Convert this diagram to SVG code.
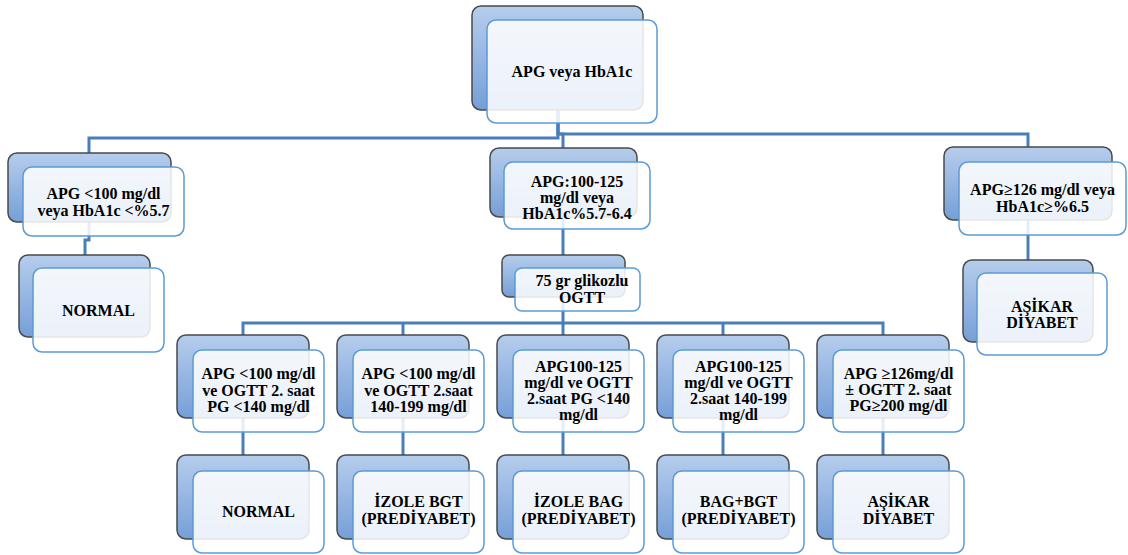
<svg xmlns="http://www.w3.org/2000/svg" width="1128" height="555" viewBox="0 0 1128 555">
<defs>
<linearGradient id="bg" x1="0" y1="0" x2="0" y2="1">
<stop offset="0" stop-color="#b6cdec"/>
<stop offset="1" stop-color="#769fd7"/>
</linearGradient>
<style>
.back{fill:url(#bg);stroke:#4a4a4a;stroke-width:1.5}
.front{fill:#ffffff;fill-opacity:0.86;stroke:#5b9bd5;stroke-width:1.5}
.conn{fill:none;stroke:#4a7ebb;stroke-width:3}
text{font-family:"Liberation Serif","Times New Roman",serif;font-weight:bold;font-size:16px;fill:#000;text-anchor:middle}
</style>
</defs>
<rect width="1128" height="555" fill="#ffffff"/>
<g id="connectors">
<path class="conn" d="M558,110 V138 H89 V153"/>
<path class="conn" d="M558,110 V134 H1028 V147"/>
<path class="conn" d="M558,110 V134 H563 V148"/>
<path class="conn" d="M89,222 V240 H85 V255"/>
<path class="conn" d="M563,217 V255"/>
<path class="conn" d="M1028,220 V260"/>
<path class="conn" d="M563,297 V323 H243 V335"/>
<path class="conn" d="M563,323 H883 V335"/>
<path class="conn" d="M403,323 V335"/>
<path class="conn" d="M563,323 V335"/>
<path class="conn" d="M723,323 V335"/>
<path class="conn" d="M243,418 V455"/>
<path class="conn" d="M403,418 V455"/>
<path class="conn" d="M563,418 V455"/>
<path class="conn" d="M723,418 V455"/>
<path class="conn" d="M883,418 V455"/>
</g>
<g id="n-top">
<rect class="back" x="472" y="6" width="171" height="104" rx="9"/>
<rect class="front" x="487" y="20" width="170" height="103" rx="9"/>
<text x="572" y="77">APG veya HbA1c</text>
</g>
<g id="n-left">
<rect class="back" x="8" y="153" width="163" height="69" rx="9"/>
<rect class="front" x="23" y="167" width="161" height="69" rx="9"/>
<text x="103.5" y="199">APG &lt;100 mg/dl</text>
<text x="103.5" y="216">veya HbA1c &lt;%5.7</text>
</g>
<g id="n-left-normal">
<rect class="back" x="19" y="255" width="131" height="82" rx="9"/>
<rect class="front" x="33" y="268" width="131" height="84" rx="9"/>
<text x="98.5" y="316">NORMAL</text>
</g>
<g id="n-mid">
<rect class="back" x="490" y="148" width="147" height="69" rx="9"/>
<rect class="front" x="504" y="162" width="146" height="67" rx="9"/>
<text x="577" y="187">APG:100-125</text>
<text x="577" y="203">mg/dl veya</text>
<text x="577" y="219">HbA1c%5.7-6.4</text>
</g>
<g id="n-ogtt">
<rect class="back" x="502" y="255" width="123" height="42" rx="7"/>
<rect class="front" x="515" y="268" width="125" height="43" rx="7"/>
<text x="582" y="286">75 gr glikozlu</text>
<text x="582" y="303">OGTT</text>
</g>
<g id="n-right">
<rect class="back" x="944" y="147" width="168" height="73" rx="9"/>
<rect class="front" x="959" y="162" width="167" height="73" rx="9"/>
<text x="1042.5" y="195">APG≥126 mg/dl veya</text>
<text x="1042.5" y="212">HbA1c≥%6.5</text>
</g>
<g id="n-right-asikar">
<rect class="back" x="963" y="260" width="130" height="82" rx="9"/>
<rect class="front" x="977" y="273" width="130" height="82" rx="9"/>
<text x="1042" y="312">AŞİKAR</text>
<text x="1042" y="328">DİYABET</text>
</g>
<g id="r2-1">
<rect class="back" x="177" y="335" width="132" height="83" rx="9"/>
<rect class="front" x="193" y="350" width="131" height="82" rx="9"/>
<text x="258.5" y="379">APG &lt;100 mg/dl</text>
<text x="258.5" y="396">ve OGTT 2. saat</text>
<text x="258.5" y="412">PG &lt;140 mg/dl</text>
</g>
<g id="r2-2">
<rect class="back" x="337" y="335" width="132" height="83" rx="9"/>
<rect class="front" x="353" y="350" width="131" height="82" rx="9"/>
<text x="418.5" y="379">APG &lt;100 mg/dl</text>
<text x="418.5" y="396">ve OGTT 2.saat</text>
<text x="418.5" y="412">140-199 mg/dl</text>
</g>
<g id="r2-3">
<rect class="back" x="497" y="335" width="132" height="83" rx="9"/>
<rect class="front" x="513" y="350" width="131" height="82" rx="9"/>
<text x="578.5" y="372">APG100-125</text>
<text x="578.5" y="388">mg/dl ve OGTT</text>
<text x="578.5" y="404">2.saat PG &lt;140</text>
<text x="578.5" y="420">mg/dl</text>
</g>
<g id="r2-4">
<rect class="back" x="657" y="335" width="132" height="83" rx="9"/>
<rect class="front" x="673" y="350" width="131" height="82" rx="9"/>
<text x="738.5" y="372">APG100-125</text>
<text x="738.5" y="388">mg/dl ve OGTT</text>
<text x="738.5" y="404">2.saat 140-199</text>
<text x="738.5" y="420">mg/dl</text>
</g>
<g id="r2-5">
<rect class="back" x="817" y="335" width="132" height="83" rx="9"/>
<rect class="front" x="833" y="350" width="131" height="82" rx="9"/>
<text x="898.5" y="379">APG ≥126mg/dl</text>
<text x="898.5" y="395">± OGTT 2. saat</text>
<text x="898.5" y="411">PG≥200 mg/dl</text>
</g>
<g id="r3-1">
<rect class="back" x="177" y="455" width="132" height="84" rx="9"/>
<rect class="front" x="193" y="471" width="131" height="82" rx="9"/>
<text x="258.5" y="517">NORMAL</text>
</g>
<g id="r3-2">
<rect class="back" x="337" y="455" width="132" height="84" rx="9"/>
<rect class="front" x="353" y="471" width="131" height="82" rx="9"/>
<text x="418.5" y="507">İZOLE BGT</text>
<text x="418.5" y="524">(PREDİYABET)</text>
</g>
<g id="r3-3">
<rect class="back" x="497" y="455" width="132" height="84" rx="9"/>
<rect class="front" x="513" y="471" width="131" height="82" rx="9"/>
<text x="578.5" y="507">İZOLE BAG</text>
<text x="578.5" y="524">(PREDİYABET)</text>
</g>
<g id="r3-4">
<rect class="back" x="657" y="455" width="132" height="84" rx="9"/>
<rect class="front" x="673" y="471" width="131" height="82" rx="9"/>
<text x="738.5" y="507">BAG+BGT</text>
<text x="738.5" y="524">(PREDİYABET)</text>
</g>
<g id="r3-5">
<rect class="back" x="817" y="455" width="132" height="84" rx="9"/>
<rect class="front" x="833" y="471" width="131" height="82" rx="9"/>
<text x="898.5" y="507">AŞİKAR</text>
<text x="898.5" y="524">DİYABET</text>
</g>
</svg>
